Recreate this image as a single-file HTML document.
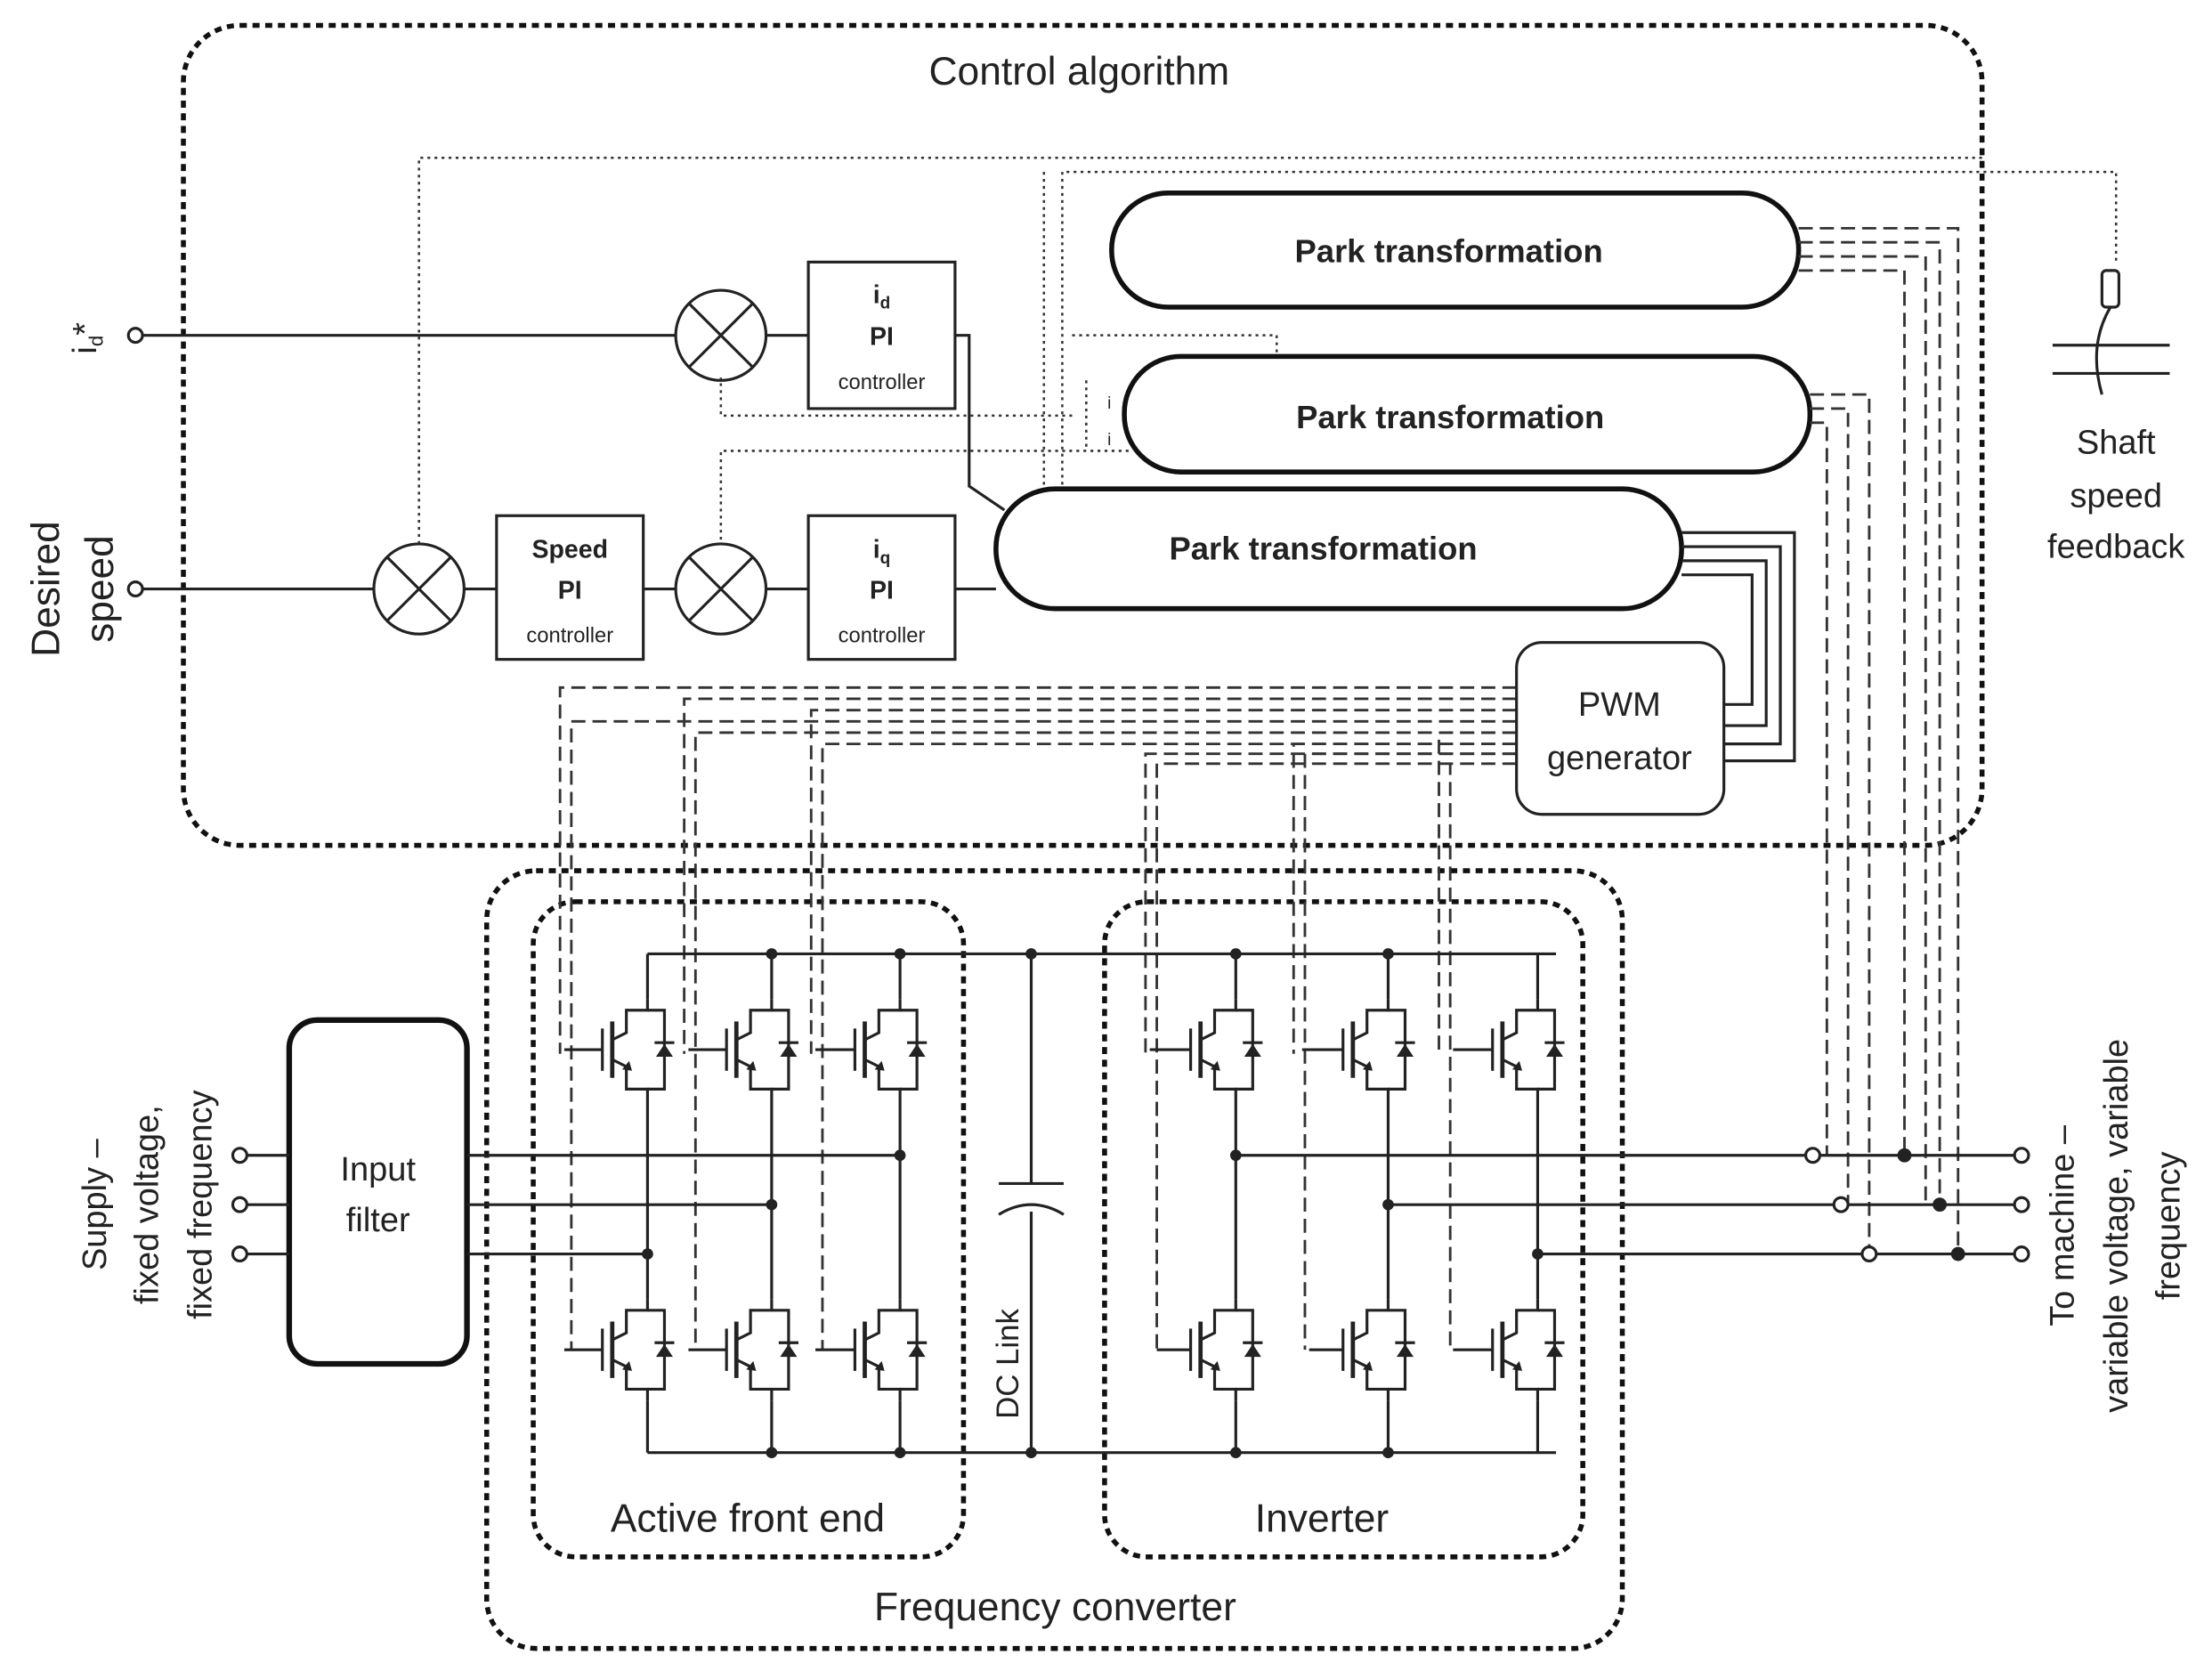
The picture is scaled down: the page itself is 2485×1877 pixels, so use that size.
<!DOCTYPE html>
<html><head><meta charset="utf-8"><style>
html,body{margin:0;padding:0;background:#fff;}
svg{display:block;}
text{font-family:"Liberation Sans",sans-serif;fill:#222;}
</style></head><body>
<svg width="2485" height="1877" viewBox="0 0 1568 1186" preserveAspectRatio="none" xmlns="http://www.w3.org/2000/svg">
<defs>
<g id="sw">
 <path d="M0,-36 V-28 H-15 V-12 L-25,-7 M-25,7 L-15,12 V28 H0 V36" fill="none" stroke="#222" stroke-width="2"/>
 <line x1="-25" y1="-20" x2="-25" y2="20" stroke="#222" stroke-width="3"/>
 <line x1="-32" y1="-15" x2="-32" y2="15" stroke="#222" stroke-width="2"/>
 <path d="M0,-28 H12 V28 H0" fill="none" stroke="#222" stroke-width="2"/>
 <polygon points="6,5 18,5 12,-4" fill="#222"/>
 <line x1="5" y1="-5" x2="19" y2="-5" stroke="#222" stroke-width="2"/>
 <polygon points="-18,14 -13,8 -11,15" fill="#222"/>
</g>
</defs>
<rect width="1568" height="1186" fill="#fff"/>
<g fill="none" stroke="#111" stroke-width="3.5" stroke-dasharray="5,4">
 <rect x="130" y="18" width="1275" height="582" rx="40"/>
 <rect x="345" y="618" width="805" height="552" rx="35"/>
 <rect x="378" y="640" width="305" height="465" rx="30"/>
 <rect x="783" y="640" width="339" height="465" rx="30"/>
</g>
<text x="765" y="60" font-size="28" text-anchor="middle">Control algorithm</text>
<text x="530" y="1087" font-size="28" text-anchor="middle">Active front end</text>
<text x="937" y="1087" font-size="28" text-anchor="middle">Inverter</text>
<text x="748" y="1150" font-size="28" text-anchor="middle">Frequency converter</text>

<g fill="none" stroke="#333" stroke-width="1.6" stroke-dasharray="2,3">
 <path d="M1405,112 H297 V385"/>
 <path d="M1500,185 V122 H753 V345"/>
 <path d="M740,122 V345"/>
 <path d="M760,295 H511 V268"/>
 <path d="M800,320 H511 V385"/>
 <path d="M760,238 H905 V253"/>
 <path d="M770,270 V320"/>
</g>
<g fill="#fff" stroke="#111" stroke-width="3.5">
 <rect x="788" y="137" width="487" height="81" rx="40"/>
 <rect x="797" y="253" width="486" height="82" rx="40"/>
 <rect x="706" y="347" width="486" height="85" rx="42"/>
</g>
<g font-size="23" font-weight="bold" text-anchor="middle">
 <text x="1027" y="186">Park transformation</text>
 <text x="1028" y="304">Park transformation</text>
 <text x="938" y="397">Park transformation</text>
</g>
<text x="785" y="290" font-size="12">i</text><text x="785" y="316" font-size="12">i</text>

<g fill="none" stroke="#333" stroke-width="1.8" stroke-dasharray="10,5">
 <path d="M1275,162 H1388 V890 M1275,172 H1375 V855 M1275,182 H1365 V855 M1275,192 H1350 V820 M1283,280 H1325 V890 M1283,290 H1310 V855 M1283,300 H1295 V820"/>
 <path d="M1075,488 H397 V748 M1075,496 H485 V748 M1075,504 H575 V748"/>
 <path d="M1075,512 H405 V958 M1075,520 H493 V958 M1075,528 H583 V958"/>
 <path d="M1075,520 H1020 V748 M1075,528 H917 V748 M1075,535 H812 V748"/>
 <path d="M1075,542 H1028 V958 M1075,535 H925 V958 M1075,542 H820 V958"/>
</g>

<g fill="none" stroke="#222" stroke-width="2">
 <circle cx="96" cy="238" r="5"/><circle cx="96" cy="418" r="5"/>
 <path d="M101,238 H479 M543,238 H573 M677,238 H687 V345 L712,362 M101,418 H265 M329,418 H352 M456,418 H479 M543,418 H573 M677,418 H706"/>
 <circle cx="511" cy="238" r="32"/><circle cx="297" cy="418" r="32"/><circle cx="511" cy="418" r="32"/>
 <path d="M488,215 L534,261 M534,215 L488,261 M274,395 L320,441 M320,395 L274,441 M488,395 L534,441 M534,395 L488,441"/>
 <rect x="573" y="186" width="104" height="104"/>
 <rect x="352" y="366" width="104" height="102"/>
 <rect x="573" y="366" width="104" height="102"/>
 <rect x="1075" y="456" width="147" height="122" rx="18" fill="#fff"/>
 <path d="M1192,378 H1272 V540 H1222 M1192,388 H1262 V528 H1222 M1192,398 H1252 V515 H1222 M1192,408 H1242 V500 H1222"/>
</g>
<g text-anchor="middle" font-weight="bold">
 <text x="625" y="215" font-size="18">i<tspan font-size="12" dy="4">d</tspan></text>
 <text x="625" y="245" font-size="18">PI</text>
 <text x="625" y="276" font-size="15" font-weight="normal">controller</text>
 <text x="404" y="396" font-size="18">Speed</text>
 <text x="404" y="425" font-size="18">PI</text>
 <text x="404" y="456" font-size="15" font-weight="normal">controller</text>
 <text x="625" y="396" font-size="18">i<tspan font-size="12" dy="4">q</tspan></text>
 <text x="625" y="425" font-size="18">PI</text>
 <text x="625" y="456" font-size="15" font-weight="normal">controller</text>
</g>
<text x="1148" y="508" font-size="24" text-anchor="middle">PWM</text>
<text x="1148" y="546" font-size="24" text-anchor="middle">generator</text>

<text transform="translate(68,240) rotate(-90)" font-size="24" text-anchor="middle">i<tspan font-size="14" dy="5">d</tspan><tspan dy="-5">*</tspan></text>
<text transform="translate(42,418) rotate(-90)" font-size="28" text-anchor="middle">Desired</text>
<text transform="translate(80,418) rotate(-90)" font-size="28" text-anchor="middle">speed</text>

<g fill="none" stroke="#222" stroke-width="2">
 <rect x="1490" y="192" width="12" height="26" rx="3"/>
 <path d="M1496,218 Q1480,245 1490,280 M1455,245 H1538 M1455,265 H1538"/>
</g>
<text x="1500" y="322" font-size="24" text-anchor="middle">Shaft</text>
<text x="1500" y="360" font-size="24" text-anchor="middle">speed</text>
<text x="1500" y="396" font-size="24" text-anchor="middle">feedback</text>

<rect x="205" y="724" width="126" height="244" rx="20" fill="none" stroke="#111" stroke-width="4"/>
<text x="268" y="838" font-size="24" text-anchor="middle">Input</text>
<text x="268" y="874" font-size="24" text-anchor="middle">filter</text>
<g fill="none" stroke="#222" stroke-width="2">
 <path d="M459,677 H1103 M459,1031 H1103"/>
 <path d="M175,820 H205 M175,855 H205 M175,890 H205"/>
 <circle cx="170" cy="820" r="5"/><circle cx="170" cy="855" r="5"/><circle cx="170" cy="890" r="5"/>
 <path d="M331,820 H638 M331,855 H547 M331,890 H459"/>
 <path d="M876,820 H1428 M984,855 H1428 M1090,890 H1428"/>
 <circle cx="1433" cy="820" r="5"/><circle cx="1433" cy="855" r="5"/><circle cx="1433" cy="890" r="5"/>
 <path d="M731,677 V840 M731,860 V1031 M708,840 H754 M708,862 Q731,848 754,862"/>
 <path d="M459,677 V709 M459,781 V922 M459,994 V1031 M547,677 V709 M547,781 V922 M547,994 V1031 M638,677 V709 M638,781 V922 M638,994 V1031"/>
 <path d="M876,677 V709 M876,781 V922 M876,994 V1031 M984,677 V709 M984,781 V922 M984,994 V1031 M1090,677 V709 M1090,781 V922 M1090,994 V1031"/>
</g>
<g fill="#222">
 <circle cx="547" cy="677" r="4"/><circle cx="638" cy="677" r="4"/><circle cx="731" cy="677" r="4"/><circle cx="876" cy="677" r="4"/><circle cx="984" cy="677" r="4"/>
 <circle cx="547" cy="1031" r="4"/><circle cx="638" cy="1031" r="4"/><circle cx="731" cy="1031" r="4"/><circle cx="876" cy="1031" r="4"/><circle cx="984" cy="1031" r="4"/>
 <circle cx="638" cy="820" r="4"/><circle cx="547" cy="855" r="4"/><circle cx="459" cy="890" r="4"/>
 <circle cx="876" cy="820" r="4"/><circle cx="984" cy="855" r="4"/><circle cx="1090" cy="890" r="4"/>
 <circle cx="1350" cy="820" r="5"/><circle cx="1375" cy="855" r="5"/><circle cx="1388" cy="890" r="5"/>
</g>
<g fill="#fff" stroke="#222" stroke-width="2">
 <circle cx="1285" cy="820" r="5"/><circle cx="1305" cy="855" r="5"/><circle cx="1325" cy="890" r="5"/>
</g>
<use href="#sw" x="459" y="745"/><use href="#sw" x="547" y="745"/><use href="#sw" x="638" y="745"/>
<use href="#sw" x="459" y="958"/><use href="#sw" x="547" y="958"/><use href="#sw" x="638" y="958"/>
<use href="#sw" x="876" y="745"/><use href="#sw" x="984" y="745"/><use href="#sw" x="1090" y="745"/>
<use href="#sw" x="876" y="958"/><use href="#sw" x="984" y="958"/><use href="#sw" x="1090" y="958"/>
<g stroke="#222" stroke-width="2">
 <path d="M400,745 H427 M488,745 H515 M578,745 H606 M400,958 H427 M488,958 H515 M578,958 H606 M815,745 H844 M923,745 H952 M1030,745 H1058 M820,958 H844 M928,958 H952 M1030,958 H1058"/>
</g>
<text transform="translate(722,968) rotate(-90)" font-size="22" text-anchor="middle">DC Link</text>

<g font-size="24" text-anchor="middle">
 <text transform="translate(75,855) rotate(-90)">Supply –</text>
 <text transform="translate(112,855) rotate(-90)">fixed voltage,</text>
 <text transform="translate(150,855) rotate(-90)">fixed frequency</text>
 <text transform="translate(1470,870) rotate(-90)">To machine –</text>
 <text transform="translate(1508,870) rotate(-90)">variable voltage, variable</text>
 <text transform="translate(1545,870) rotate(-90)">frequency</text>
</g>
</svg>
</body></html>
